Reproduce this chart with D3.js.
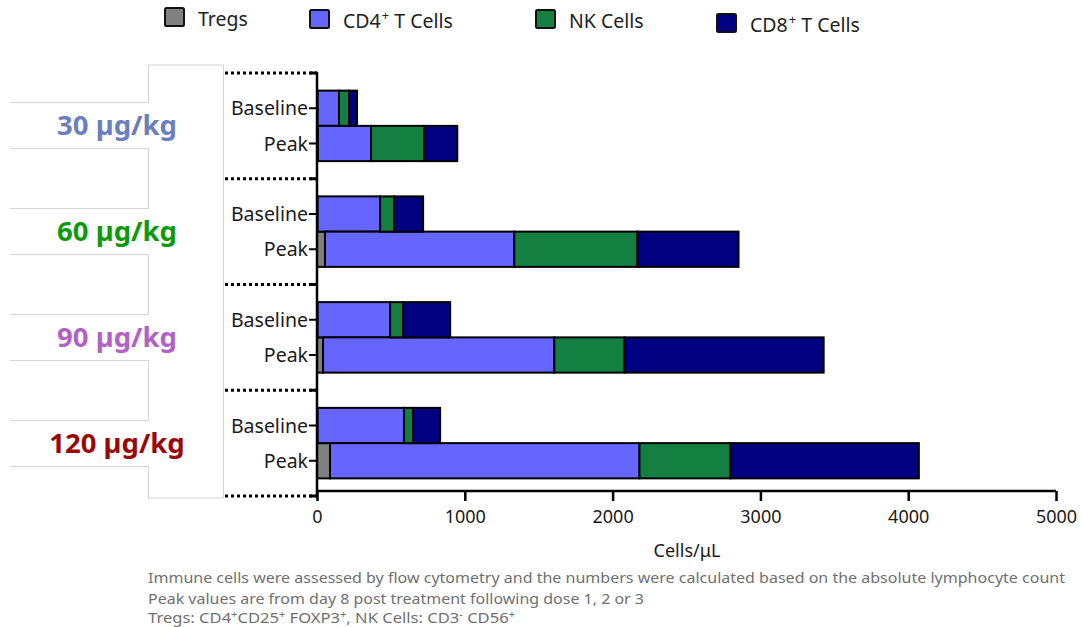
<!DOCTYPE html>
<html>
<head>
<meta charset="utf-8">
<script src="https://cdn.jsdelivr.net/npm/d3@7"></script>
<style>
  body { margin: 0; background: #fff; }
  svg { display: block; font-family: "Noto Sans", "DejaVu Sans", sans-serif; }
</style>
</head>
<body>
<div id="chart"></div>
<script>
// chart data
const doses = ["30 µg/kg", "60 µg/kg", "90 µg/kg", "120 µg/kg"];
const doseColors = ["#6a7fc0", "#0c990c", "#b262c4", "#990808"];
const timepoints = ["Baseline", "Peak"];
const seriesNames = ["Tregs", "CD4", "NK", "CD8"];
const seriesColors = ["#808080", "#6666ff", "#138041", "#000080"];

// one value per dose x timepoint: 30B, 30P, 60B, 60P, 90B, 90P, 120B, 120P
const tregs = [4, 6, 4, 54, 4, 41, 4, 88];
const cd4 = [145, 360, 423, 1281, 491, 1565, 585, 2094];
const nk = [68, 359, 95, 833, 88, 474, 61, 616];
const cd8 = [54, 224, 196, 684, 318, 1348, 183, 1274];

const xTicks = [0, 1000, 2000, 3000, 4000, 5000];
const footnotes = [
  "Immune cells were assessed by flow cytometry and the numbers were calculated based on the absolute lymphocyte count",
  "Peak values are from day 8 post treatment following dose 1, 2 or 3"
];

const width = 1082, height = 627;

const svg = d3.select('#chart').append('svg')
  .attr('width', width)
  .attr('height', height);

// build rows for the stack
const rows = [];
doses.forEach((d, i) => {
  timepoints.forEach((t, j) => {
    const k = i * 2 + j;
    rows.push({ dose: d, time: t, Tregs: tregs[k], CD4: cd4[k], NK: nk[k], CD8: cd8[k] });
  });
});

const x = d3.scaleLinear().domain([0, 5000]).range([317, 1056]);
const yGroup = d3.scaleBand().domain(doses).range([73, 496]).padding(0);
const yInner = d3.scaleBand().domain(timepoints)
  .range([0, yGroup.bandwidth()]).paddingInner(0).paddingOuter(0.5);

const stacked = d3.stack().keys(seriesNames)(rows);

// light grey frame on the left, the dose label boxes
const frame = svg.append('g')
  .attr('fill', 'none')
  .attr('stroke', '#d4d4d4')
  .attr('stroke-width', 1);

frame.append('line').attr('x1', 223.5).attr('x2', 223.5).attr('y1', 65).attr('y2', 498);
frame.append('line').attr('x1', 148).attr('x2', 223.5).attr('y1', 65).attr('y2', 65);
frame.append('line').attr('x1', 148).attr('x2', 223.5).attr('y1', 498).attr('y2', 498);

const labelBoxH = 46;
let prevBottom = 65;
doses.forEach((d, i) => {
  const cy = yGroup(d) + yGroup.bandwidth() / 2 - 0.5;
  const top = Math.round(cy - labelBoxH / 2) + 0.5;
  const bot = top + labelBoxH;
  frame.append('line').attr('x1', 148.5).attr('x2', 148.5).attr('y1', prevBottom).attr('y2', top);
  frame.append('line').attr('x1', 10).attr('x2', 148.5).attr('y1', top).attr('y2', top);
  frame.append('line').attr('x1', 10).attr('x2', 148.5).attr('y1', bot).attr('y2', bot);
  prevBottom = bot;

  svg.append('text')
    .attr('x', 117)
    .attr('y', cy + 10)
    .attr('text-anchor', 'middle')
    .attr('font-size', 27.5)
    .attr('font-weight', 'bold')
    .attr('fill', doseColors[i])
    .text(d);
});
frame.append('line').attr('x1', 148.5).attr('x2', 148.5).attr('y1', prevBottom).attr('y2', 498);

// dotted group separators
const seps = doses.map(d => yGroup(d)).concat([yGroup.range()[1]]);
svg.append('g').selectAll('line')
  .data(seps)
  .enter().append('line')
  .attr('x1', 225)
  .attr('x2', 317)
  .attr('y1', d => d)
  .attr('y2', d => d)
  .attr('stroke', '#000')
  .attr('stroke-width', 3)
  .attr('stroke-dasharray', '3,3');

// separator ticks on the axis
svg.append('g').selectAll('line')
  .data(seps)
  .enter().append('line')
  .attr('x1', 310)
  .attr('x2', 317)
  .attr('y1', d => d)
  .attr('y2', d => d)
  .attr('stroke', '#000')
  .attr('stroke-width', 3);

// bars
const barY = d => yGroup(d.data.dose) + yInner(d.data.time);
svg.append('g').selectAll('g')
  .data(stacked)
  .enter().append('g')
  .attr('fill', (d, i) => seriesColors[i])
  .selectAll('rect')
  .data(d => d)
  .enter().append('rect')
  .attr('x', d => x(d[0]))
  .attr('y', d => barY(d))
  .attr('width', d => x(d[1]) - x(d[0]))
  .attr('height', yInner.bandwidth())
  .attr('stroke', '#000')
  .attr('stroke-width', 2);

// y labels
doses.forEach(d => {
  timepoints.forEach(t => {
    const cy = yGroup(d) + yInner(t) + yInner.bandwidth() / 2;
    svg.append('line')
      .attr('x1', 309).attr('x2', 317)
      .attr('y1', cy).attr('y2', cy)
      .attr('stroke', '#000').attr('stroke-width', 2);
    svg.append('text')
      .attr('x', 308)
      .attr('y', cy + 7)
      .attr('text-anchor', 'end')
      .attr('font-size', 19.5)
      .attr('fill', '#1a1a1a')
      .text(t);
  });
});

// y axis line
svg.append('line')
  .attr('x1', 317).attr('x2', 317)
  .attr('y1', 72).attr('y2', 497)
  .attr('stroke', '#000').attr('stroke-width', 2.5);

// x axis
const xAxis = svg.append('g')
  .attr('transform', 'translate(0,491)')
  .call(d3.axisBottom(x).tickValues(xTicks).tickSize(10).tickPadding(9).tickFormat(d3.format('d')));
xAxis.select('.domain').attr('stroke', '#000').attr('stroke-width', 2.5).attr('d', 'M317,0H1056');
xAxis.selectAll('.tick line').attr('stroke', '#000').attr('stroke-width', 2.5);
xAxis.selectAll('.tick text')
  .attr('font-size', 18)
  .attr('font-family', '"Noto Sans", sans-serif')
  .attr('fill', '#1a1a1a');

svg.append('text')
  .attr('x', 687)
  .attr('y', 557)
  .attr('text-anchor', 'middle')
  .attr('font-size', 18)
  .attr('fill', '#1a1a1a')
  .text('Cells/μL');

// legend
const legendItems = [
  { x: 165, y: 8, label: 'Tregs', sup: null, rest: null },
  { x: 310, y: 10, label: 'CD4', sup: '+', rest: ' T Cells' },
  { x: 536, y: 10, label: 'NK Cells', sup: null, rest: null },
  { x: 717, y: 14, label: 'CD8', sup: '+', rest: ' T Cells' }
];
legendItems.forEach((it, i) => {
  svg.append('rect')
    .attr('x', it.x).attr('y', it.y)
    .attr('width', 19).attr('height', 18)
    .attr('rx', 1.5)
    .attr('fill', seriesColors[i])
    .attr('stroke', '#111').attr('stroke-width', 2);
  const t = svg.append('text')
    .attr('x', it.x + 33)
    .attr('y', it.y + 18)
    .attr('font-size', 19.5)
    .attr('fill', '#222');
  t.append('tspan').text(it.label);
  if (it.sup) {
    t.append('tspan').attr('dx', 1).attr('dy', -8).attr('font-size', 13).text(it.sup);
    t.append('tspan').attr('dy', 8).text(it.rest);
  }
});

// footnotes
const foot = svg.append('g')
  .attr('font-size', 15)
  .attr('fill', '#707070');
foot.append('text').attr('x', 148).attr('y', 583)
  .attr('textLength', 917).attr('lengthAdjust', 'spacingAndGlyphs')
  .text(footnotes[0]);
foot.append('text').attr('x', 148).attr('y', 604)
  .attr('textLength', 496).attr('lengthAdjust', 'spacingAndGlyphs')
  .text(footnotes[1]);

const f3 = foot.append('text').attr('x', 148).attr('y', 623)
  .attr('textLength', 367).attr('lengthAdjust', 'spacingAndGlyphs');
const parts = [
  ['Tregs: CD4', null], ['+', 'sup'], ['CD25', null], ['+', 'sup'], [' FOXP3', null], ['+', 'sup'],
  [', NK Cells: CD3', null], ['-', 'sup'], [' CD56', null], ['+', 'sup']
];
let up = false;
parts.forEach(([s, kind]) => {
  const ts = f3.append('tspan').text(s);
  if (kind === 'sup' && !up) { ts.attr('dy', -5).attr('font-size', 10); up = true; }
  else if (kind === 'sup') { ts.attr('font-size', 10); }
  else if (up) { ts.attr('dy', 5); up = false; }
});
</script>
</body>
</html>
